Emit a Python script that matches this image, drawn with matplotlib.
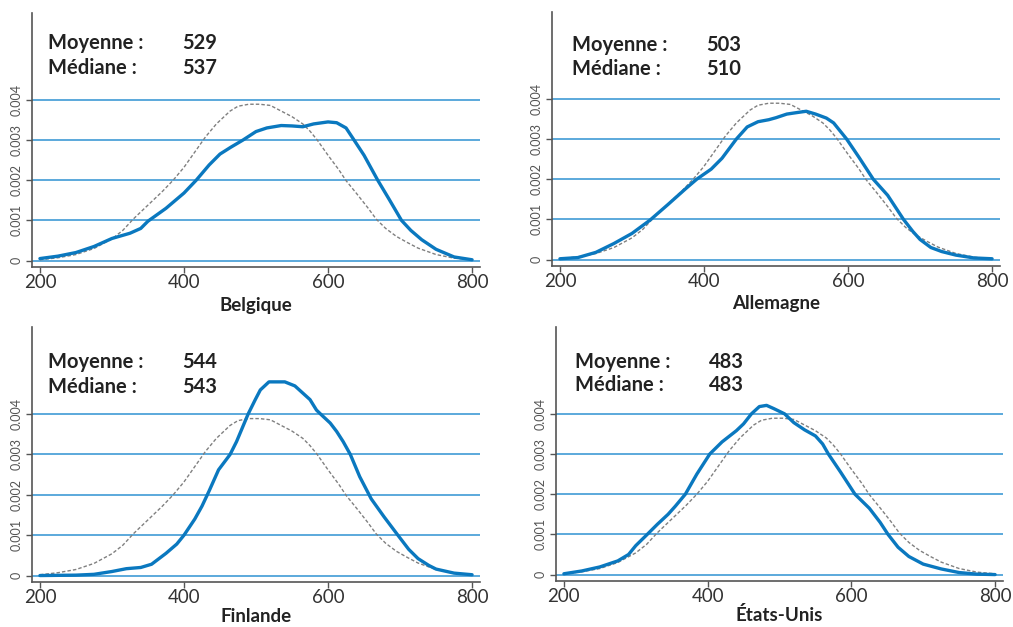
import matplotlib
matplotlib.use('Agg')
import matplotlib.pyplot as plt

plt.rcParams['font.family'] = ['Lato', 'DejaVu Sans']

# ---------------- data ----------------
countries = ['Belgique', 'Allemagne', 'Finlande', 'États-Unis']
means = [529, 503, 544, 483]
medians = [537, 510, 543, 483]

x_ticks = [200, 400, 600, 800]
y_ticks = [0, 0.001, 0.002, 0.003, 0.004]
y_tick_labels = ['0', '0.001', '0.002', '0.003', '0.004']

# reference distribution (dashed grey), identical in all panels
ref_x = [200, 225, 250, 275, 300, 315, 330, 350, 370, 385, 400, 415, 430, 445,
         464, 475, 490, 505, 520, 535, 550, 565, 575, 585, 600, 615, 625, 640,
         655, 667, 680, 695, 710, 725, 750, 775, 800]
ref_y = [0.00002, 0.00007, 0.00015, 0.00030, 0.00054, 0.00075, 0.00104, 0.00138,
         0.00172, 0.00200, 0.00232, 0.00270, 0.00308, 0.00340, 0.00372, 0.00384,
         0.00389, 0.00389, 0.00386, 0.00372, 0.00358, 0.00340, 0.00322, 0.00300,
         0.00262, 0.00226, 0.00199, 0.00166, 0.00132, 0.00103, 0.00080, 0.00060,
         0.00045, 0.00031, 0.00015, 0.00006, 0.00002]

bel_x = [200, 225, 250, 275, 300, 325, 340, 350, 375, 400, 417, 435, 450, 465,
         482, 500, 515, 535, 550, 565, 580, 600, 612, 625, 635, 650, 669, 685,
         702, 715, 730, 750, 775, 800]
bel_y = [0.00005, 0.00011, 0.00020, 0.00035, 0.00055, 0.00068, 0.00080, 0.00098,
         0.00130, 0.00168, 0.00200, 0.00238, 0.00265, 0.00282, 0.00300, 0.00321,
         0.00330, 0.00336, 0.00335, 0.00333, 0.00340, 0.00345, 0.00343, 0.00330,
         0.00303, 0.00262, 0.00200, 0.00152, 0.00100, 0.00075, 0.00052, 0.00028,
         0.00009, 0.00002]

deu_x = [200, 225, 250, 275, 300, 325, 350, 375, 390, 410, 425, 445, 460, 475,
         490, 500, 515, 530, 542, 555, 570, 580, 598, 615, 635, 655, 677, 690,
         700, 715, 730, 750, 775, 800]
deu_y = [0.00002, 0.00005, 0.00018, 0.00040, 0.00065, 0.00098, 0.00137, 0.00177,
         0.00200, 0.00225, 0.00252, 0.00300, 0.00330, 0.00343, 0.00348, 0.00353,
         0.00362, 0.00366, 0.00369, 0.00362, 0.00352, 0.00340, 0.00300, 0.00255,
         0.00200, 0.00160, 0.00100, 0.00070, 0.00050, 0.00030, 0.00020, 0.00011,
         0.00004, 0.00002]

fin_x = [200, 250, 275, 300, 320, 340, 355, 375, 390, 400, 415, 425, 435, 448,
         464, 473, 489, 499, 506, 518, 540, 554, 575, 584, 591, 603, 612, 621,
         631, 644, 660, 678, 697, 712, 725, 740, 750, 775, 800]
fin_y = [0.00000, 0.00001, 0.00003, 0.00010, 0.00017, 0.00020, 0.00028, 0.00055,
         0.00078, 0.00100, 0.00140, 0.00172, 0.00210, 0.00262, 0.00300, 0.00332,
         0.00400, 0.00436, 0.00460, 0.00480, 0.00480, 0.00470, 0.00436, 0.00410,
         0.00398, 0.00378, 0.00357, 0.00332, 0.00300, 0.00245, 0.00190, 0.00145,
         0.00100, 0.00065, 0.00042, 0.00025, 0.00016, 0.00006, 0.00002]

usa_x = [200, 225, 250, 275, 290, 300, 316, 330, 345, 355, 369, 385, 403, 420,
         440, 450, 461, 472, 482, 492, 507, 520, 535, 550, 560, 568, 585, 605,
         625, 640, 651, 665, 680, 700, 725, 750, 775, 800]
usa_y = [0.00002, 0.00009, 0.00019, 0.00034, 0.00050, 0.00072, 0.00100, 0.00125,
         0.00150, 0.00170, 0.00200, 0.00250, 0.00300, 0.00330, 0.00358, 0.00375,
         0.00400, 0.00418, 0.00421, 0.00413, 0.00400, 0.00378, 0.00360, 0.00345,
         0.00325, 0.00300, 0.00255, 0.00200, 0.00165, 0.00130, 0.00100, 0.00068,
         0.00045, 0.00026, 0.00014, 0.00005, 0.00001, 0.00000]

series_x = [bel_x, deu_x, fin_x, usa_x]
series_y = [bel_y, deu_y, fin_y, usa_y]

# ---------------- layout / style ----------------
positions = [
    [0.03159, 0.57416, 0.44225, 0.40510],
    [0.54492, 0.57576, 0.44225, 0.40510],
    [0.03159, 0.07177, 0.44225, 0.40670],
    [0.54886, 0.07337, 0.44126, 0.40510],
]
text_y = [(0.881, 0.785), (0.870, 0.776), (0.863, 0.765), (0.863, 0.772)]
text_x = [(0.036, 0.335), (0.045, 0.344), (0.036, 0.335), (0.043, 0.342)]
label_y = [-0.150, -0.146, -0.137, -0.134]

BLUE = '#0a78bf'
GRID = '#2f92d2'
AXC = '#555555'

fig = plt.figure(figsize=(10.13, 6.27), dpi=100)

for i, name in enumerate(countries):
    ax = fig.add_axes(positions[i])
    ax.set_xlim(189, 811)
    ax.set_ylim(-0.00016, 0.00616)
    ax.set_yticks(y_ticks)
    ax.set_yticklabels(y_tick_labels, rotation=90, va='center',
                       fontsize=9, color='#555555')
    ax.set_xticks(x_ticks)
    ax.set_xticklabels([str(v) for v in x_ticks], fontsize=13.5,
                       color='#333333')
    ax.yaxis.grid(True, color=GRID, lw=1.1)
    ax.set_axisbelow(True)
    for s in ['top', 'right']:
        ax.spines[s].set_visible(False)
    for s in ['left', 'bottom']:
        ax.spines[s].set_color(AXC)
        ax.spines[s].set_linewidth(1.2)
    ax.tick_params(axis='y', length=4, width=1, color=AXC, pad=3)
    ax.tick_params(axis='x', length=4, width=1, color=AXC, pad=1)

    ax.plot(ref_x, ref_y, color='#808080', lw=1.0, dashes=(2.5, 1.5))
    ax.plot(series_x[i], series_y[i], color=BLUE, lw=2.4,
            solid_joinstyle='round', solid_capstyle='round')

    tx0, tx1 = text_x[i]
    ty0, ty1 = text_y[i]
    kw = dict(transform=ax.transAxes, fontsize=14.5, fontweight='bold',
              color='#222222', va='center', ha='left')
    ax.text(tx0, ty0, 'Moyenne :', **kw)
    ax.text(tx1, ty0, str(means[i]), **kw)
    ax.text(tx0, ty1, 'Médiane :', **kw)
    ax.text(tx1, ty1, str(medians[i]), **kw)

    ax.text(0.5, label_y[i], name, transform=ax.transAxes, fontsize=13.5,
            fontweight='bold', color='#222222', ha='center', va='center')

fig.savefig('out.png', dpi=100)
